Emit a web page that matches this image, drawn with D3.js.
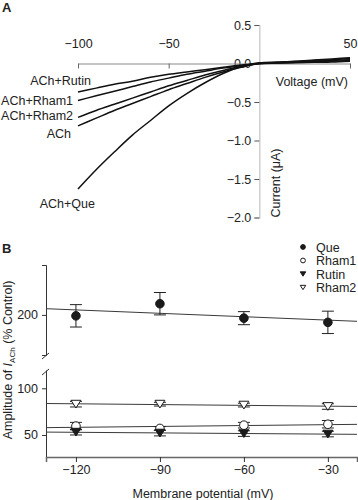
<!DOCTYPE html>
<html>
<head>
<meta charset="utf-8">
<script src="https://cdn.jsdelivr.net/npm/d3@7/dist/d3.min.js"></script>
<style>
  html, body { margin: 0; padding: 0; background: #fff; }
  svg { display: block; }
  text { font-family: "Liberation Sans", Arial, sans-serif; fill: #222; }
</style>
</head>
<body>
<svg id="chart" width="358" height="500"></svg>
<script>
// ---------- Panel A data (I-V traces) ----------
const voltagesA = [-100, -90, -80, -70, -60, -50, -40, -30, -20, -10, 0, 10, 20, 30, 40, 50];
const traceNames = ["ACh+Rutin", "ACh+Rham1", "ACh+Rham2", "ACh", "ACh+Que"];
const currentRutin = [-0.37, -0.32, -0.27, -0.23, -0.18, -0.14, -0.11, -0.08, -0.05, -0.02, 0.0, 0.005, 0.01, 0.015, 0.02, 0.03];
const currentRham1 = [-0.48, -0.42, -0.36, -0.30, -0.24, -0.19, -0.14, -0.10, -0.06, -0.03, 0.0, 0.008, 0.015, 0.022, 0.03, 0.04];
const currentRham2 = [-0.70, -0.61, -0.53, -0.45, -0.37, -0.29, -0.22, -0.15, -0.09, -0.04, 0.0, 0.01, 0.02, 0.03, 0.04, 0.05];
const currentACh   = [-0.81, -0.71, -0.61, -0.52, -0.43, -0.34, -0.26, -0.18, -0.11, -0.05, 0.0, 0.012, 0.025, 0.037, 0.05, 0.065];
const currentQue   = [-1.63, -1.38, -1.15, -0.93, -0.74, -0.55, -0.39, -0.25, -0.13, -0.04, 0.01, 0.02, 0.03, 0.045, 0.06, 0.075];
const xTicksA = [-100, -50, 50];
const yTicksA = [0.5, 0.0, -0.5, -1.0, -1.5, -2.0];

// ---------- Panel B data (amplitude vs membrane potential) ----------
const potentialsB = [-120, -90, -60, -30];
const seriesNames = ["Que", "Rham1", "Rutin", "Rham2"];
const ampQue   = [199, 212, 196.5, 192];
const errQue   = [12, 12, 7, 12];
const ampRham1 = [59.5, 57, 60.5, 61.5];
const errRham1 = [4, 2, 3, 4];
const ampRutin = [53, 52, 51.5, 51];
const errRutin = [3, 3, 3, 3];
const ampRham2 = [83, 83, 82, 80.5];
const errRham2 = [3, 2, 2, 3];
const xTicksB = [-120, -90, -60, -30];
const yTicksUpper = [200];
const yTicksLower = [50, 100];

const svg = d3.select("#chart");
const FS = 12.5;

// ================= Panel A =================
const xA = d3.scaleLinear().domain([-100, 50]).range([78, 350]);
const yA = d3.scaleLinear().domain([0.5, -2.0]).range([25, 217.5]);

svg.append("text").attr("x", 2).attr("y", 12).attr("font-weight", "bold")
  .attr("font-size", 13).text("A");

// y axis (light grey line, ticks on left)
const gYA = svg.append("g").attr("transform", `translate(${xA(0)},0)`)
  .call(d3.axisLeft(yA).tickValues(yTicksA).tickSize(5).tickPadding(3)
    .tickFormat(d => d3.format(".1f")(d).replace("-", "\u2212")));
gYA.select(".domain").attr("stroke", "#c4c4c4").attr("stroke-width", 1.2);
gYA.selectAll(".tick line").attr("stroke", "#555");
gYA.selectAll(".tick text").attr("font-size", FS).attr("fill", "#333")
  .attr("font-family", "Liberation Sans, Arial, sans-serif");

// x axis at I=0 (grey line, ticks down, labels above)
const gXA = svg.append("g").attr("transform", `translate(0,${yA(0)})`)
  .call(d3.axisBottom(xA).tickValues(xTicksA).tickSize(5).tickSizeOuter(0)
    .tickFormat(d => String(d).replace("-", "\u2212")));
gXA.select(".domain").attr("stroke", "#8a8a8a").attr("stroke-width", 1.2);
gXA.selectAll(".tick line").attr("stroke", "#666");
gXA.selectAll(".tick text").attr("font-size", FS).attr("fill", "#333")
  .attr("font-family", "Liberation Sans, Arial, sans-serif")
  .attr("y", -16).attr("dy", "0");

// traces
const traces = [currentRutin, currentRham1, currentRham2, currentACh, currentQue];
const lineA = d3.line().x((d, i) => xA(voltagesA[i])).y(d => yA(d)).curve(d3.curveMonotoneX);
traces.forEach(tr => {
  svg.append("path").datum(tr).attr("d", lineA)
    .attr("fill", "none").attr("stroke", "#111").attr("stroke-width", 1.5);
});

// trace labels (anchored at end)
const traceLabelPos = [[91, 85], [73, 105], [73, 120], [71, 137.5], [95, 208]];
traceNames.forEach((n, i) => {
  svg.append("text").attr("x", traceLabelPos[i][0]).attr("y", traceLabelPos[i][1])
    .attr("text-anchor", "end").attr("font-size", FS).attr("fill", "#333").text(n);
});

svg.append("text").attr("x", 348).attr("y", 85.5).attr("text-anchor", "end")
  .attr("font-size", FS).attr("fill", "#333").text("Voltage (mV)");
svg.append("text").attr("transform", `translate(280,183) rotate(-90)`)
  .attr("text-anchor", "middle").attr("font-size", FS).attr("fill", "#333").text("Current (\u03bcA)");

// ================= Panel B =================
const xB = d3.scaleLinear().domain([-130.7, -19.6]).range([46, 357]);
const yU = d3.scaleLinear().domain([157, 253.5]).range([355, 265]);
const yL = d3.scaleLinear().domain([26.4, 119.6]).range([457, 370]);

svg.append("text").attr("x", 2).attr("y", 253).attr("font-weight", "bold")
  .attr("font-size", 13).text("B");

function styleAxis(g) {
  g.select(".domain").attr("stroke", "#333");
  g.selectAll(".tick line").attr("stroke", "#333");
  g.selectAll(".tick text").attr("font-size", FS).attr("fill", "#333")
    .attr("font-family", "Liberation Sans, Arial, sans-serif");
}
const gYU = svg.append("g").attr("transform", `translate(${xB.range()[0]},0)`)
  .call(d3.axisLeft(yU).tickValues(yTicksUpper).tickSize(4).tickSizeOuter(4).tickPadding(4));
styleAxis(gYU);
const gYL = svg.append("g").attr("transform", `translate(${xB.range()[0]},0)`)
  .call(d3.axisLeft(yL).tickValues(yTicksLower).tickSize(4).tickSizeOuter(0).tickPadding(4));
styleAxis(gYL);
const gXB = svg.append("g").attr("transform", `translate(0,${yL.range()[0]})`)
  .call(d3.axisBottom(xB).tickValues(xTicksB).tickSize(5).tickSizeOuter(5).tickPadding(3)
    .tickFormat(d => String(d).replace("-", "\u2212")));
styleAxis(gXB);
gXB.select(".domain").attr("stroke", "#666").attr("stroke-width", 1.5);

// break marks
const x0 = xB.range()[0];
[[yU.range()[0], 0], [yL.range()[1], 1]].forEach(([yy, k]) => {
  const yc = k === 0 ? yy + 1 : yy + 2;
  svg.append("line").attr("x1", x0 - 4).attr("y1", yc + 3).attr("x2", x0 + 3).attr("y2", yc - 3)
    .attr("stroke", "#333").attr("stroke-width", 1);
});

// regression lines (least squares from points)
function fit(ys) {
  const xs = potentialsB;
  const mx = d3.mean(xs), my = d3.mean(ys);
  const sxy = d3.sum(xs, (x, i) => (x - mx) * (ys[i] - my));
  const sxx = d3.sum(xs, x => (x - mx) ** 2);
  const b = sxy / sxx;
  return x => my + b * (x - mx);
}
const seriesB = [
  { vals: ampQue, err: errQue, y: yU, sym: "circleFilled" },
  { vals: ampRham1, err: errRham1, y: yL, sym: "circleOpen" },
  { vals: ampRutin, err: errRutin, y: yL, sym: "triFilled" },
  { vals: ampRham2, err: errRham2, y: yL, sym: "triOpen" }
];
seriesB.forEach(s => {
  const f = fit(s.vals);
  const [d0, d1] = xB.domain();
  svg.append("line").attr("x1", xB(d0)).attr("y1", s.y(f(d0)))
    .attr("x2", xB(d1)).attr("y2", s.y(f(d1)))
    .attr("stroke", "#3a3a3a").attr("stroke-width", 1);
});

function drawSymbol(g, type, cx, cy, size) {
  if (type === "circleFilled" || type === "circleOpen") {
    g.append("circle").attr("cx", cx).attr("cy", cy).attr("r", size)
      .attr("fill", type === "circleFilled" ? "#1a1a1a" : "#fff")
      .attr("stroke", "#1a1a1a").attr("stroke-width", 1);
  } else {
    const h = size * 1.8, w = size * 1.15;
    const pts = [[cx - w, cy - h / 2], [cx + w, cy - h / 2], [cx, cy + h / 2]];
    g.append("polygon").attr("points", pts.map(p => p.join(",")).join(" "))
      .attr("fill", type === "triFilled" ? "#1a1a1a" : "#fff")
      .attr("stroke", "#1a1a1a").attr("stroke-width", 1);
  }
}

// error bars and points
seriesB.forEach(s => {
  const g = svg.append("g");
  s.vals.forEach((v, i) => {
    const cx = xB(potentialsB[i]);
    const yt = s.y(v + s.err[i]), yb = s.y(v - s.err[i]);
    g.append("line").attr("x1", cx).attr("x2", cx).attr("y1", yt).attr("y2", yb)
      .attr("stroke", "#222").attr("stroke-width", 1);
    [yt, yb].forEach(yy => g.append("line").attr("x1", cx - 6).attr("x2", cx + 6)
      .attr("y1", yy).attr("y2", yy).attr("stroke", "#222").attr("stroke-width", 1));
  });
  s.vals.forEach((v, i) => drawSymbol(g, s.sym, xB(potentialsB[i]), s.y(v), 4.3));
});

// legend
seriesNames.forEach((n, i) => {
  const yy = [247, 260.5, 274, 287.5][i];
  drawSymbol(svg, seriesB[i].sym, 303, yy, 2.4);
  svg.append("text").attr("x", 316).attr("y", yy).attr("dy", "0.36em")
    .attr("font-size", FS).attr("fill", "#333").text(n);
});

// axis titles
svg.append("text").attr("x", 203).attr("y", 497.5).attr("text-anchor", "middle")
  .attr("font-size", FS).attr("fill", "#333").text("Membrane potential (mV)");

const yt = svg.append("text").attr("transform", `translate(11.5,360) rotate(-90)`)
  .attr("text-anchor", "middle").attr("font-size", FS).attr("fill", "#333");
yt.append("tspan").text("Amplitude of ");
yt.append("tspan").attr("font-style", "italic").text("I");
yt.append("tspan").attr("font-size", 8).attr("dy", 3).text("ACh");
yt.append("tspan").attr("dy", -3).text(" (% Control)");
</script>
</body>
</html>
